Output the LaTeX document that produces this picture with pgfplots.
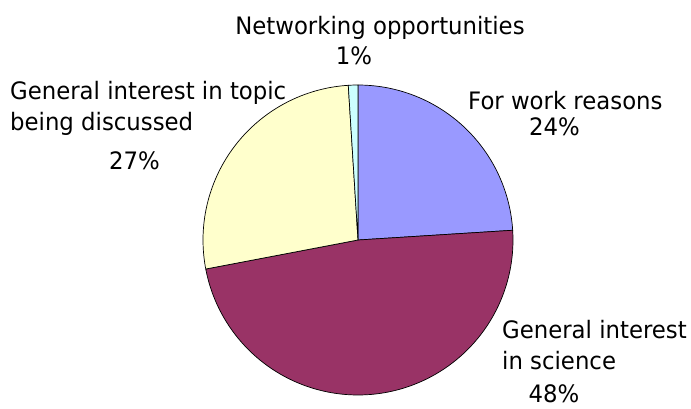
\documentclass[border=0pt]{standalone}
\usepackage{pgfplots}
\pgfplotsset{compat=1.18}
\usepackage{fontspec}
\setmainfont{DejaVu Sans}[FakeStretch=0.95]
\definecolor{cWork}{HTML}{9999FF}
\definecolor{cSci}{HTML}{993366}
\definecolor{cTopic}{HTML}{FFFFCC}
\definecolor{cNet}{HTML}{CCFFFF}
% shares in percent
\def\vWork{24}
\def\vSci{48}
\def\vTopic{27}
\def\vNet{1}
\begin{document}
\fontsize{24}{30}\selectfont
\begin{tikzpicture}
\pgfmathsetmacro{\aA}{90}
\pgfmathsetmacro{\aB}{\aA-3.6*\vWork}
\pgfmathsetmacro{\aC}{\aB-3.6*\vSci}
\pgfmathsetmacro{\aD}{\aC-3.6*\vTopic}
\pgfmathsetmacro{\aE}{\aD-3.6*\vNet}
\begin{axis}[
  at={(0,0)}, anchor=south west,
  scale only axis, width=691pt, height=409pt,
  xmin=0, xmax=691, ymin=-409, ymax=0,
  hide axis, clip=false,
  every axis plot/.append style={draw=black, line width=0.7pt, line join=round},
]
\addplot[fill=cWork, domain=\aB:\aA, samples=60, variable=\t] ({358+155*cos(\t)},{-240+155*sin(\t)}) -- (axis cs:358,-240) -- cycle;
\addplot[fill=cSci, domain=\aC:\aB, samples=120, variable=\t] ({358+155*cos(\t)},{-240+155*sin(\t)}) -- (axis cs:358,-240) -- cycle;
\addplot[fill=cTopic, domain=\aD:\aC, samples=70, variable=\t] ({358+155*cos(\t)},{-240+155*sin(\t)}) -- (axis cs:358,-240) -- cycle;
\addplot[fill=cNet, domain=\aE:\aD, samples=5, variable=\t] ({358+155*cos(\t)},{-240+155*sin(\t)}) -- (axis cs:358,-240) -- cycle;
\begin{scope}[every node/.style={inner sep=0pt, text=black}]
\node[anchor=base] at (axis cs:380,-34.5) {Networking opportunities};
\node[anchor=base] at (axis cs:354,-64.5) {1\%};
\node[anchor=base west] at (axis cs:10,-100) {General interest in topic};
\node[anchor=base west] at (axis cs:10,-131) {being discussed};
\node[anchor=base] at (axis cs:134.5,-170) {27\%};
\node[anchor=base west] at (axis cs:468,-109.5) {For work reasons};
\node[anchor=base] at (axis cs:554.5,-136) {24\%};
\node[anchor=base west] at (axis cs:502,-339) {General interest};
\node[anchor=base west] at (axis cs:502,-370) {in science};
\node[anchor=base] at (axis cs:554,-403) {48\%};
\end{scope}
\end{axis}
\pgfresetboundingbox
\path[use as bounding box] (0,0) rectangle (691pt,409pt);
\end{tikzpicture}
\end{document}
